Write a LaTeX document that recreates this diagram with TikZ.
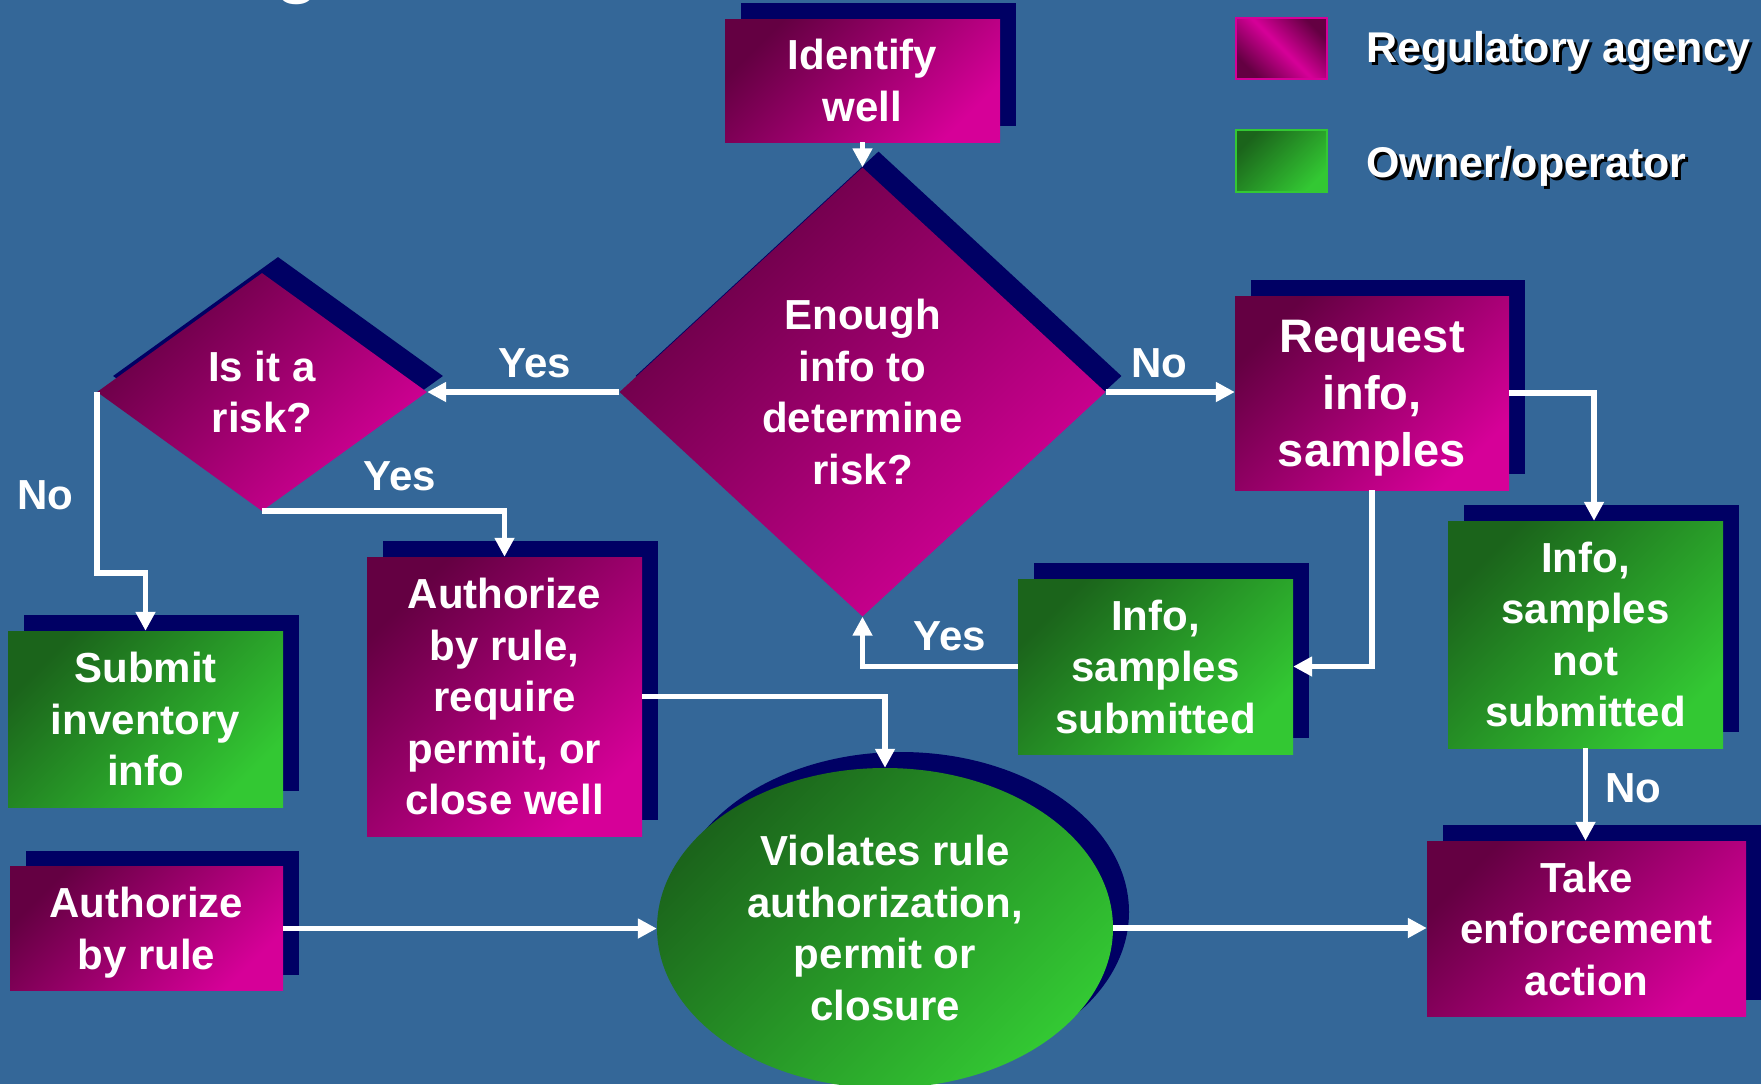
\documentclass[tikz,border=0pt]{standalone}
\usepackage{fontspec}
\setmainfont{Liberation Sans}
\usetikzlibrary{shapes.geometric,shadows,arrows.meta,calc}
\definecolor{bg}{RGB}{52,103,152}
\definecolor{navyshadow}{RGB}{0,0,100}
\definecolor{pinkdark}{RGB}{100,0,66}
\definecolor{pinklight}{RGB}{214,0,152}
\definecolor{greendark}{RGB}{27,100,27}
\definecolor{greenlight}{RGB}{51,200,51}
\pgfdeclarehorizontalshading{pinkband}{100bp}{color(0bp)=(pinkdark); color(25bp)=(pinkdark); color(50bp)=(pinklight); color(75bp)=(pinkdark); color(100bp)=(pinkdark)}
\begin{document}
\begin{tikzpicture}[x=1pt, y=-1pt,
  every node/.style={text=white, inner sep=0pt, align=center, font=\fontsize{42}{51.5}\selectfont\bfseries},
  agency/.style={top color=pinkdark, bottom color=pinklight, shading angle=45, text depth=0pt,
    general shadow={fill=navyshadow, shadow xshift=16pt, shadow yshift=16pt}},
  owner/.style={top color=greendark, bottom color=greenlight, shading angle=45, text depth=0pt,
    general shadow={fill=navyshadow, shadow xshift=16pt, shadow yshift=16pt}},
  conn/.style={draw=white, line width=5.5pt, -{Triangle[length=19pt,width=19pt]}},
  lbl/.style={anchor=base},
  legtext/.style={anchor=base west, font=\fontsize{43}{50}\selectfont\bfseries}
]
\useasboundingbox (0,0) rectangle (1761,1084);
\fill[bg] (0,0) rectangle (1761,1084);
\begin{scope}
\clip (0,0) rectangle (1761,1084);

% partial title letter at the top edge
\node[anchor=south, font=\fontsize{72}{80}\selectfont\bfseries] (ttl) at (297,5) {g};

% legend
\node[draw=pinklight, line width=2pt, shading=pinkband, shading angle=45,
      minimum width=91, minimum height=61] (lgA) at (1281.5,48) {};
\node[draw=greenlight, line width=2pt, top color=greendark, bottom color=greenlight,
      shading angle=45, minimum width=91, minimum height=62] (lgB) at (1281.5,161) {};
\node[legtext, text=black] (lgAs) at (1369,65) {Regulatory agency};
\node[legtext] (lgAt) at (1366,62) {Regulatory agency};
\node[legtext, text=black] (lgBs) at (1369,180) {Owner/operator};
\node[legtext] (lgBt) at (1366,177) {Owner/operator};

% flow nodes
\node[agency, minimum width=275, minimum height=123] (idw) at (862.5,80.5) {Identify\\well};
\node[agency, diamond, minimum width=486, minimum height=449] (dia) at (862.5,392) {Enough\\info to\\determine\\risk?};
\node[agency, diamond, minimum width=330, minimum height=238] (rsk) at (262,392) {Is it a\\risk?};
\node[agency, minimum width=274, minimum height=194, font=\fontsize{47}{57}\selectfont\bfseries] (req) at (1372,393) {Request\\info,\\samples};
\node[owner, minimum width=275, minimum height=175] (ins) at (1155.5,666.5) {Info,\\samples\\submitted};
\node[owner, minimum width=275, minimum height=227] (inn) at (1585.5,634.5) {Info,\\samples\\not\\submitted};
\node[agency, minimum width=319, minimum height=175] (tea) at (1586.5,928.5) {Take\\enforcement\\action};
\node[owner, minimum width=275, minimum height=176] (sub) at (145.5,719) {Submit\\inventory\\info};
\node[agency, minimum width=273, minimum height=124] (abr) at (146.5,928.5) {Authorize\\by rule};
\node[agency, minimum width=275, minimum height=279] (abp) at (504.5,696.5) {Authorize\\by rule,\\require\\permit, or\\close well};
\node[owner, ellipse, minimum width=456, minimum height=320] (vio) at (885,928) {Violates rule\\authorization,\\permit or\\closure};

% labels
\node[lbl] (yes1) at (535,377) {Yes};
\node[lbl] (no1) at (1159,377) {No};
\node[lbl] (yes2) at (400,490) {Yes};
\node[lbl] (no2) at (45,509) {No};
\node[lbl] (yes3) at (950,650) {Yes};
\node[lbl] (no3) at (1633,802) {No};

% connectors
\draw[conn] (idw) -- (dia);
\draw[conn] (dia.west) -- (rsk.east);
\draw[conn] (dia.east) -- (dia.east -| req.west);
\draw[conn] (rsk.west) -- ++(0,181) -| (sub.north);
\draw[conn] (rsk.south) -| (abp.north);
\draw[conn] (req.south) |- (ins.east);
\draw[conn] (req.east) -| ([xshift=8.5pt]inn.north);
\draw[conn] (ins.west) -| (dia.south);
\draw[conn] (inn.south) -- (inn.south |- tea.north);
\draw[conn] (abr.east) -- (abr.east -| vio.west);
\draw[conn] (vio.east) -- (vio.east -| tea.west);
\draw[conn] (abp.east) -| (vio.north);
\end{scope}
\end{tikzpicture}
\end{document}
